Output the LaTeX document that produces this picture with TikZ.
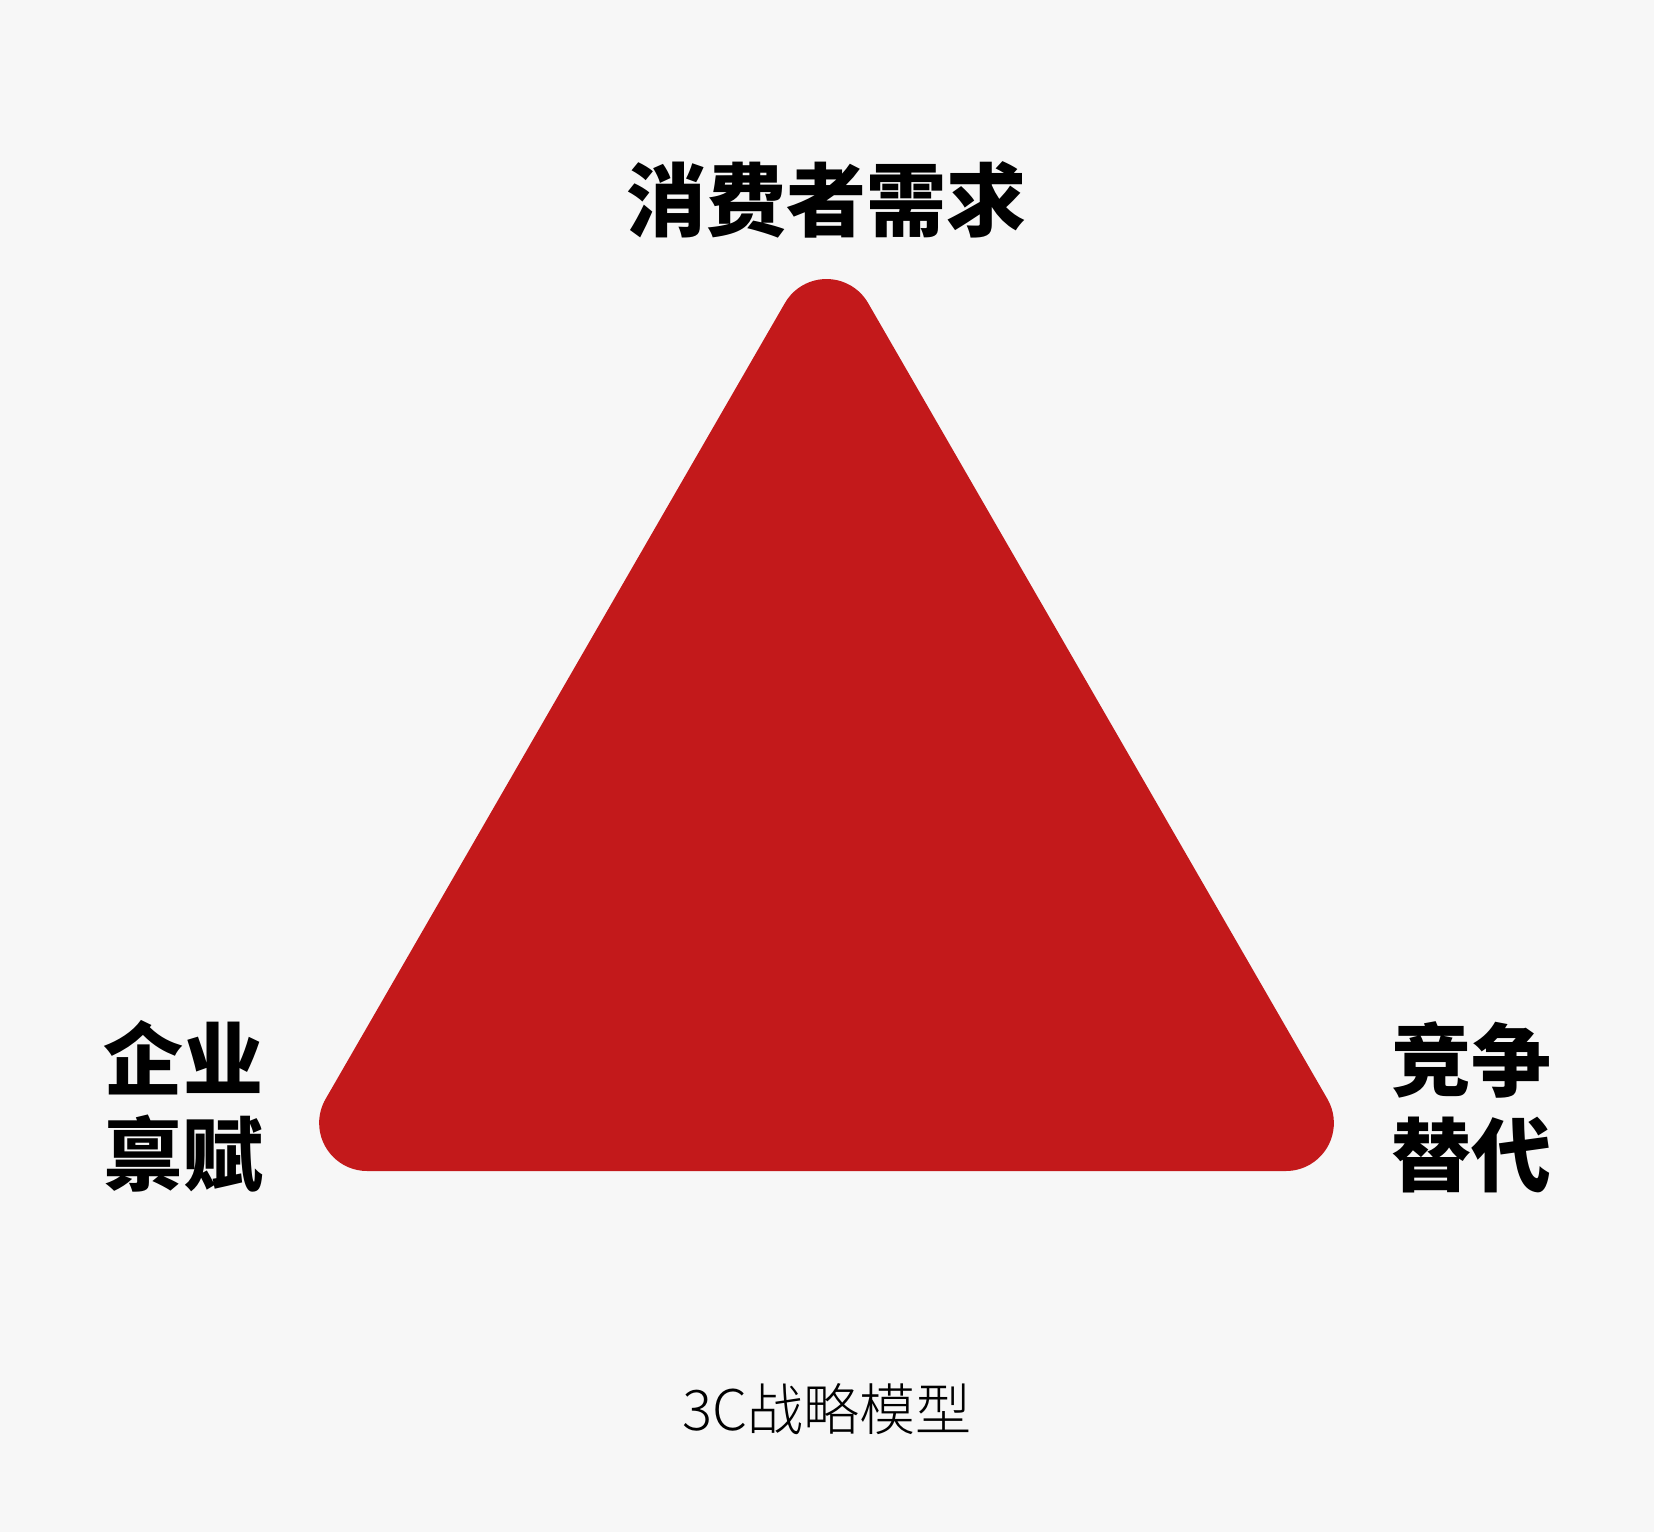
\documentclass[tikz,border=0pt]{standalone}
\usepackage{fontspec}
\usepackage{xcolor}
\usepackage{tikz}
\newfontfamily\cjk{Noto Sans CJK SC}
\newfontfamily\cjklight{Noto Sans CJK SC Light}
\definecolor{bgGrey}{HTML}{F7F7F7}
\definecolor{triRed}{HTML}{C3191B}

\begin{document}
\begin{tikzpicture}[x=0.5pt, y=-0.5pt]

	\tikzstyle{corner}=[font=\cjk\bfseries\fontsize{40pt}{47.5pt}\selectfont, align=center, inner sep=0pt]
	\tikzstyle{caption}=[font=\cjklight\fontsize{28pt}{32pt}\selectfont, inner sep=0pt]
	\fill[bgGrey] (0,0) rectangle (1654,1532);
	\useasboundingbox (0,0) rectangle (1654,1532);

	% the triangle, corners rounded with radius 48
	\coordinate (topL) at (784.93,303);
	\coordinate (rightT) at (1327.43,1099);
	\coordinate (leftB) at (367.14,1171);
	\fill[triRed] (topL) arc[start angle=210, end angle=330, radius=48]
		-- (rightT) arc[start angle=-30, end angle=90, radius=48]
		-- (leftB) arc[start angle=90, end angle=210, radius=48]
		-- cycle;

	% labels at the corners
	\node[corner] (need) at (826.5,200) {消费者需求};
	\node[corner] (firm) at (183,1106) {企业\\禀赋};
	\node[corner] (rival) at (1471.5,1107) {竞争\\替代};

	% caption
	\node[caption] (model) at (827,1409) {3C战略模型};

\end{tikzpicture}
\end{document}
